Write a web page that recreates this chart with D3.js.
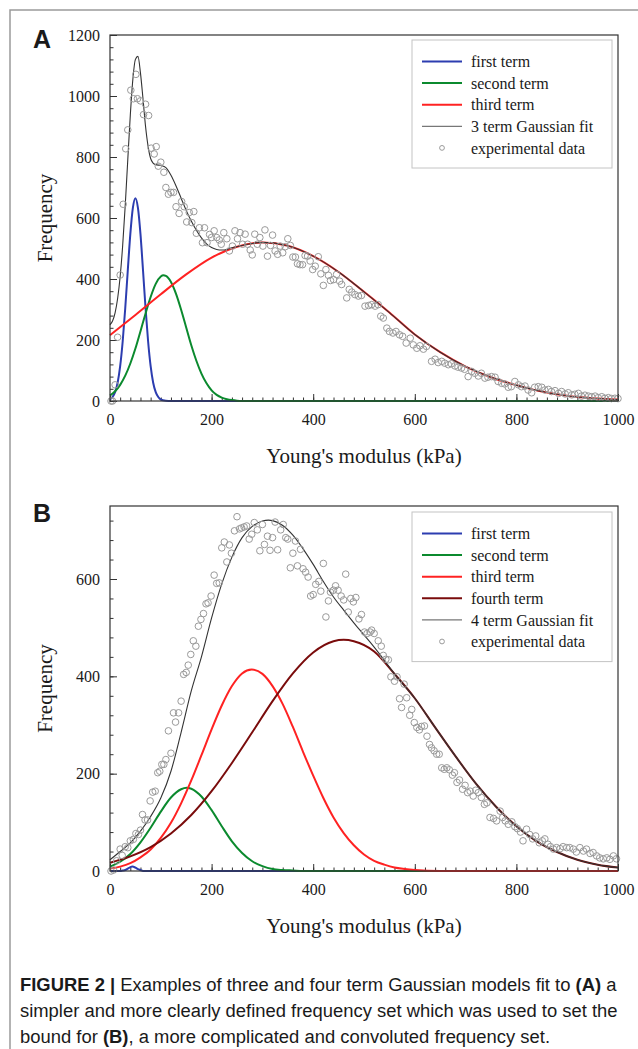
<!DOCTYPE html>
<html lang="en">
<head>
<meta charset="UTF-8">
<title>Gaussian model fits</title>
<script src="https://d3js.org/d3.v7.min.js"></script>
<style>
  body { margin: 0; background: #fff; }
  svg text { font-family: "Liberation Serif", "Times New Roman", serif; fill: #1a1a1a; }
  .panel-letter { font-family: "Liberation Sans", Arial, sans-serif; font-weight: bold; font-size: 25px; }
  .caption text { font-family: "Liberation Sans", Arial, sans-serif; }
</style>
</head>
<body>
<script>
// ---- shared axis values
const kPaTicks = [0, 200, 400, 600, 800, 1000];
const freqTicksA = [0, 200, 400, 600, 800, 1000, 1200];
const freqTicksB = [0, 200, 400, 600];

// ---- panel A (3 term fit), [kPa, frequency]
const aFirstTerm = [[0,5],[5,13],[10,29],[15,60],[20,114],[25,196],[30,304],[35,428],[40,547],[45,633],[50,665],[55,633],[60,547],[65,428],[70,304],[75,196],[80,114],[85,60],[90,29],[95,13],[100,5],[110,1],[120,0],[1000,0]];
const aSecondTerm = [[0,18],[10,32],[20,53],[30,83],[40,123],[50,172],[60,229],[70,287],[80,341],[90,384],[100,408],[105,412],[110,410],[120,390],[130,351],[140,299],[150,241],[160,183],[170,132],[180,90],[190,58],[200,35],[210,20],[220,11],[230,6],[240,3],[250,1],[260,0],[1000,0]];
const aThirdTerm = [[0,216],[50,282],[100,350],[150,415],[200,470],[250,506],[300,520],[350,509],[400,475],[450,423],[500,358],[550,290],[600,218],[650,160],[700,113],[750,78],[800,52],[850,31],[900,17],[950,9],[1000,5]];
const aFit = [[0,250],[5,262],[10,289],[15,336],[20,408],[25,511],[30,642],[35,791],[40,938],[45,1055],[50,1120],[55,1130],[60,1075],[65,990],[70,900],[75,835],[80,795],[85,780],[90,775],[100,772],[110,765],[120,740],[130,705],[140,665],[150,625],[160,590],[170,560],[180,535],[190,515],[200,503],[210,497],[220,495],[230,497],[240,502],[250,506],[300,520],[350,509],[400,475],[450,423],[500,358],[550,290],[600,218],[650,160],[700,113],[750,78],[800,52],[850,31],[900,17],[950,9],[1000,5]];
const aExperimental = [[2,0],[5,0],[10,53],[15,209],[20,413],[26,645],[31,827],[35,889],[41,1019],[46,991],[51,1071],[54,991],[60,984],[66,939],[70,973],[76,936],[81,829],[87,810],[91,834],[95,770],[100,783],[106,750],[110,700],[115,678],[120,684],[125,684],[130,637],[136,615],[141,654],[146,637],[151,587],[156,618],[161,585],[165,621],[170,550],[176,568],[182,519],[186,568],[191,519],[196,546],[200,536],[205,558],[210,536],[215,528],[219,514],[224,552],[230,532],[235,492],[241,508],[246,558],[251,532],[256,552],[261,514],[266,547],[271,514],[276,495],[280,479],[285,547],[290,514],[295,536],[301,508],[305,561],[310,475],[316,510],[320,544],[325,492],[330,481],[335,508],[340,486],[345,506],[350,532],[355,510],[360,472],[365,472],[369,450],[374,447],[379,447],[384,477],[389,475],[394,459],[399,431],[404,442],[410,473],[415,417],[420,379],[425,431],[430,412],[434,395],[440,398],[446,415],[452,393],[456,382],[466,338],[471,366],[476,357],[482,349],[489,344],[495,346],[502,311],[509,313],[515,316],[522,311],[528,316],[533,278],[538,272],[545,239],[550,228],[557,223],[563,228],[570,217],[576,212],[583,190],[591,206],[597,184],[604,173],[610,181],[617,170],[623,179],[633,130],[640,137],[646,126],[653,130],[659,124],[666,119],[672,122],[679,115],[685,111],[692,108],[698,104],[705,80],[712,97],[718,91],[725,82],[731,91],[738,75],[744,78],[751,80],[758,78],[764,64],[771,58],[777,56],[784,45],[790,47],[797,64],[804,53],[810,47],[817,49],[823,36],[830,27],[836,45],[843,47],[850,45],[856,36],[863,38],[869,31],[876,34],[883,25],[889,31],[896,23],[902,27],[909,20],[915,22],[922,25],[928,16],[935,19],[942,16],[948,14],[955,16],[961,11],[968,14],[974,9],[981,11],[987,8],[994,9],[1000,8]];

// ---- panel B (4 term fit), [kPa, frequency]
const bFirstTerm = [[0,0],[20,0],[25,1],[30,2],[35,5],[40,8],[44,9],[50,7],[55,4],[60,2],[65,0],[1000,0]];
const bSecondTerm = [[0,9],[20,19],[40,35],[60,59],[80,89],[100,122],[120,151],[140,168],[151,171],[160,169],[180,153],[200,125],[220,92],[240,61],[260,37],[280,20],[300,10],[320,4],[340,2],[360,1],[380,0],[1000,0]];
const bThirdTerm = [[0,5],[20,9],[40,16],[60,28],[80,44],[100,68],[120,99],[140,139],[160,186],[180,238],[200,291],[220,340],[240,380],[260,406],[279,414],[300,405],[320,380],[340,343],[360,296],[380,245],[400,196],[420,150],[440,110],[460,78],[480,53],[500,34],[520,21],[540,13],[560,7],[580,4],[600,2],[650,0],[1000,0]];
const bFourthTerm = [[0,17],[40,30],[80,49],[120,77],[160,115],[200,164],[240,222],[280,285],[320,349],[360,406],[400,449],[440,472],[460,475],[480,472],[520,451],[560,405],[600,355],[640,295],[680,236],[720,180],[760,132],[800,92],[840,61],[880,39],[920,23],[960,13],[1000,7]];
const bFit = [[0,23],[20,40],[40,58],[60,82],[80,112],[100,150],[120,205],[140,285],[160,370],[180,440],[200,520],[220,590],[240,645],[260,685],[280,708],[300,719],[312,721],[320,720],[340,710],[360,690],[380,662],[400,630],[420,595],[440,563],[460,536],[480,510],[500,485],[520,460],[540,433],[560,405],[600,355],[640,295],[680,236],[720,180],[760,132],[800,92],[840,61],[880,39],[920,23],[960,13],[1000,7]];
const bExperimental = [[2,0],[7,2],[13,21],[20,45],[24,32],[30,50],[35,48],[40,62],[46,65],[51,77],[56,75],[60,84],[64,116],[69,105],[74,105],[79,144],[84,162],[89,164],[94,202],[98,205],[102,219],[106,219],[110,229],[115,288],[120,242],[125,325],[129,306],[135,325],[140,349],[145,404],[150,408],[154,423],[159,445],[164,473],[169,462],[174,503],[179,517],[184,529],[189,549],[193,551],[199,565],[205,608],[210,591],[215,592],[220,664],[225,676],[230,635],[235,670],[239,653],[245,699],[250,728],[255,703],[259,705],[264,707],[269,709],[274,682],[279,692],[284,716],[290,701],[295,658],[300,712],[304,671],[310,688],[315,659],[320,685],[325,717],[330,660],[336,701],[341,712],[346,685],[350,682],[355,623],[360,653],[365,678],[369,627],[375,661],[380,621],[385,614],[390,604],[395,565],[400,568],[405,589],[411,595],[415,575],[420,632],[425,522],[430,555],[434,573],[440,577],[444,586],[449,577],[455,565],[460,557],[464,610],[469,532],[474,560],[479,553],[484,562],[490,518],[495,527],[501,491],[506,488],[512,491],[515,495],[520,488],[528,473],[534,462],[538,443],[543,435],[548,434],[553,399],[560,390],[565,399],[570,354],[574,336],[579,384],[584,356],[590,320],[594,332],[599,305],[604,295],[609,290],[613,297],[619,298],[624,277],[629,260],[633,253],[638,247],[643,240],[648,240],[653,212],[658,209],[663,212],[668,208],[674,197],[678,202],[683,182],[688,187],[694,168],[699,176],[704,161],[709,164],[715,154],[720,166],[725,161],[731,151],[737,137],[742,140],[748,110],[755,108],[761,103],[768,123],[773,110],[778,103],[784,96],[791,101],[797,91],[802,87],[808,80],[813,62],[820,86],[826,75],[832,66],[838,72],[845,58],[851,62],[856,66],[862,55],[867,50],[873,45],[879,48],[886,46],[892,50],[899,48],[905,48],[912,45],[918,39],[925,48],[932,41],[938,45],[945,36],[951,38],[958,31],[964,27],[971,25],[978,27],[984,24],[991,31],[997,25]];

const colors = { first: "#2c3db0", second: "#0b8a2e", third: "#ff2222", fourth: "#7a0c0c", fit: "#333333", dots: "#9a9a9a" };
const serif = '"Liberation Serif", "Times New Roman", serif';

const width = 638, height = 1049;
const svg = d3.select("body").append("svg")
    .attr("width", width)
    .attr("height", height);

// outer figure frame
svg.append("path")
    .attr("d", `M10,${height}V10H${width}`)
    .attr("fill", "none")
    .attr("stroke", "#9a9a9a")
    .attr("stroke-width", 1.5);

const x = d3.scaleLinear().domain([0, 1000]).range([110, 618]);

function drawPanel(p) {
    const y = d3.scaleLinear().domain([0, p.yMax]).range([p.bottom, p.top]);
    const g = svg.append("g");

    const strip = sel => {
        sel.select(".domain").remove();
        sel.selectAll(".tick line").attr("stroke", "#333");
        sel.selectAll(".tick text")
            .style("font-family", serif)
            .style("font-size", "16px")
            .attr("fill", "#1a1a1a");
    };

    // minor ticks
    g.append("g")
        .attr("transform", `translate(0,${p.bottom})`)
        .call(d3.axisBottom(x).tickValues(d3.range(0, 1001, 20)).tickSize(-3.5).tickFormat(""))
        .call(strip);
    g.append("g")
        .attr("transform", "translate(110,0)")
        .call(d3.axisLeft(y).tickValues(d3.range(0, p.yMax, 40)).tickSize(-3.5).tickFormat(""))
        .call(strip);

    // major ticks with labels
    g.append("g")
        .attr("transform", `translate(0,${p.bottom})`)
        .call(d3.axisBottom(x).tickValues(kPaTicks).tickSize(-7).tickPadding(13).tickFormat(d3.format("d")))
        .call(strip);
    g.append("g")
        .attr("transform", "translate(110,0)")
        .call(d3.axisLeft(y).tickValues(p.yTicks).tickSize(-7).tickPadding(10).tickFormat(d3.format("d")))
        .call(strip);

    const line = d3.line()
        .x(d => x(d[0]))
        .y(d => y(d[1]))
        .curve(d3.curveMonotoneX);

    p.terms.forEach(t => {
        g.append("path")
            .datum(t.data)
            .attr("d", line)
            .attr("fill", "none")
            .attr("stroke", t.color)
            .attr("stroke-width", 2);
    });

    g.append("path")
        .datum(p.fit)
        .attr("d", line)
        .attr("fill", "none")
        .attr("stroke", colors.fit)
        .attr("stroke-width", 1.1);

    g.append("g").selectAll("circle")
        .data(p.dots)
        .join("circle")
        .attr("cx", d => x(d[0]))
        .attr("cy", d => y(d[1]))
        .attr("r", 3.3)
        .attr("fill", "none")
        .attr("stroke", colors.dots)
        .attr("stroke-width", 1);

    // plot frame
    g.append("rect")
        .attr("x", 110)
        .attr("y", p.top)
        .attr("width", 508)
        .attr("height", p.bottom - p.top)
        .attr("fill", "none")
        .attr("stroke", "#333")
        .attr("stroke-width", 1.2);

    // legend
    const lg = g.append("g");
    const rows = p.terms.map(t => ({ label: t.label, color: t.color, kind: "term" }))
        .concat([{ label: p.fitLabel, color: "#777", kind: "fit" }, { label: "experimental data", kind: "dot" }]);
    lg.append("rect")
        .attr("x", 412)
        .attr("y", p.legendTop)
        .attr("width", 200)
        .attr("height", rows.length * 21.6 + 20)
        .attr("fill", "#fff")
        .attr("stroke", "#c4c4c4")
        .attr("stroke-width", 1);
    rows.forEach((r, i) => {
        const cy = p.legendTop + 21.5 + i * 21.6;
        if (r.kind === "dot") {
            lg.append("circle").attr("cx", 442).attr("cy", cy).attr("r", 2.4)
                .attr("fill", "none").attr("stroke", colors.dots).attr("stroke-width", 1);
        } else {
            lg.append("line").attr("x1", 422).attr("x2", 462).attr("y1", cy).attr("y2", cy)
                .attr("stroke", r.color).attr("stroke-width", r.kind === "fit" ? 1.2 : 2);
        }
        lg.append("text").attr("x", 471).attr("y", cy).attr("dy", "0.35em")
            .style("font-size", "16px").text(r.label);
    });

    // titles
    g.append("text")
        .attr("x", 364)
        .attr("y", p.bottom + 62)
        .attr("text-anchor", "middle")
        .style("font-size", "21px")
        .text("Young's modulus (kPa)");
    g.append("text")
        .attr("transform", `translate(52,${(p.top + p.bottom) / 2}) rotate(-90)`)
        .attr("text-anchor", "middle")
        .style("font-size", "21px")
        .text("Frequency");
    g.append("text")
        .attr("class", "panel-letter")
        .attr("x", 33)
        .attr("y", p.letterY)
        .text(p.letter);
}

drawPanel({
    letter: "A", letterY: 48,
    top: 35, bottom: 401, yMax: 1200, yTicks: freqTicksA,
    terms: [
        { label: "first term", color: colors.first, data: aFirstTerm },
        { label: "second term", color: colors.second, data: aSecondTerm },
        { label: "third term", color: colors.third, data: aThirdTerm }
    ],
    fit: aFit, fitLabel: "3 term Gaussian fit", dots: aExperimental,
    legendTop: 40
});

drawPanel({
    letter: "B", letterY: 522,
    top: 506, bottom: 871, yMax: 750, yTicks: freqTicksB,
    terms: [
        { label: "first term", color: colors.first, data: bFirstTerm },
        { label: "second term", color: colors.second, data: bSecondTerm },
        { label: "third term", color: colors.third, data: bThirdTerm },
        { label: "fourth term", color: colors.fourth, data: bFourthTerm }
    ],
    fit: bFit, fitLabel: "4 term Gaussian fit", dots: bExperimental,
    legendTop: 512
});

// caption
const cap = svg.append("g").attr("class", "caption");
const captionLines = [
    [["FIGURE 2 |", true], [" Examples of three and four term Gaussian models fit to ", false], ["(A)", true], [" a", false]],
    [["simpler and more clearly defined frequency set which was used to set the", false]],
    [["bound for ", false], ["(B)", true], [", a more complicated and convoluted frequency set.", false]]
];
const capTexts = captionLines.map((parts, i) => {
    const t = cap.append("text").attr("x", 20).attr("y", 991 + i * 26).style("font-size", "17px");
    parts.forEach(([s, b]) => t.append("tspan").attr("font-weight", b ? "bold" : null).text(s));
    return t;
});
// match the original line width of the second caption line
const w2 = capTexts[1].node().getComputedTextLength();
const fs = 17 * 598 / w2;
capTexts.forEach(t => t.style("font-size", fs + "px"));
</script>
</body>
</html>
